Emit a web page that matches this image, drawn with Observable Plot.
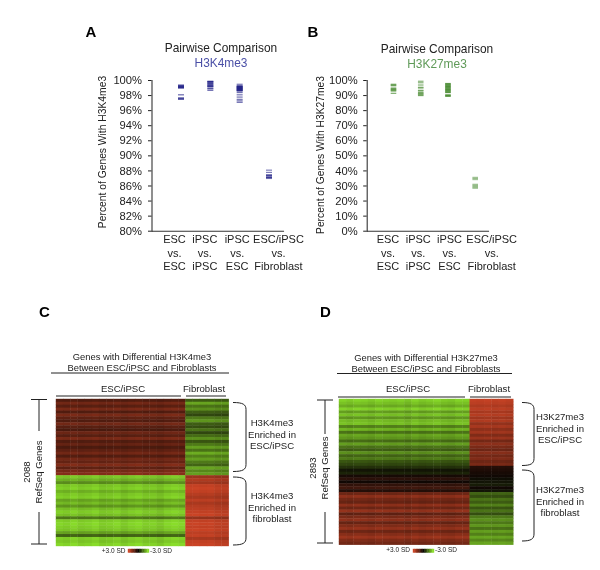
<!DOCTYPE html>
<html><head><meta charset="utf-8">
<script src="https://cdn.jsdelivr.net/npm/d3@7"></script>
<script src="https://cdn.jsdelivr.net/npm/@observablehq/plot@0.6"></script>
<style>
html,body{margin:0;padding:0;background:#fff}
#root{position:relative;width:600px;height:570px;overflow:hidden;font-family:"Liberation Sans",Arial,sans-serif;color:#222;filter:blur(0.3px)}
#root svg{position:absolute;overflow:visible;background:transparent}
.t{position:absolute;white-space:nowrap;line-height:1}
</style></head><body><div id="root"></div>
<script>
const comparisons = ["ESC\nvs.\nESC","iPSC\nvs.\niPSC","iPSC\nvs.\nESC","ESC/iPSC\nvs.\nFibroblast"];
// Panel A values (percent)
const a1 = [99.4,99.3,99.25,99.2,99.1,99.05,99.0,98.1,97.7,97.6,97.5];
const a2 = [99.9,99.85,99.8,99.7,99.6,99.5,99.4,99.3,99.25,99.2,99.0,98.9,98.7];
const a3 = [99.5,99.3,99.25,99.2,99.15,99.1,99.05,99.0,98.95,98.9,98.85,98.8,98.75,98.7,98.65,98.6,98.4,98.1,97.8,97.5,97.3,97.1];
const a4 = [88.1,87.8,87.5,87.4,87.35,87.2,87.15,87.1,87.0];
// Panel B values (percent)
const b1 = [97.5,97,96.5,95,94.5,94,93.5,93,91.5];
const b2 = [99.5,98.5,97,95.5,95,93.5,93,92,91.5,91,90.5,90];
const b3 = [98,97.5,97,96.5,96,95.5,95,94.5,94,93.5,93,92.5,92,90.5,90,89.5];
const b4 = [35.8,35.4,35,34.6,34.2,31.2,30.8,30.4,30,29.6,29.2,28.8,28.4];
const pctA = [100,98,96,94,92,90,88,86,84,82,80];
const pctB = [100,90,80,70,60,50,40,30,20,10,0];
// Heatmap rows, in SD units
const cEsc = [1.1,1.6,1.2,1.7,1.1,1.7,1.3,1.1,1.6,1.2,1.0,1.5,1.2,1.7,1.1,1.4,1.0,1.3,1.6,1.1,1.6,1.4,1.8,1.3,1.7,1.9,
  -2.7,-2.4,-1.9,-2.7,-2.8,-2.4,-2.7,-2.8,-2.2,-2.5,-2.0,-2.6,-2.8,-2.6,-1.6,-2.8,-2.9,-2.8,-2.7,-2.2,-1.3,-2.8,-2.7,-2.9];
const cFib = [-1.2,-2.2,-1.5,-1.9,-1.2,-0.9,-1.6,-2.0,-1.2,-1.0,-1.5,-0.9,-1.4,-1.9,-1.1,-1.6,-2.1,-1.5,-2.3,-1.7,-2.1,-1.6,-1.3,-2.2,-1.8,-2.1,
  2.2,2.5,2.3,2.8,2.9,2.8,2.6,2.4,2.7,2.4,2.6,2.7,2.8,2.9,2.1,2.8,2.9,2.8,2.9,2.7,2.8,2.4,2.8,2.9];
const dEsc = [-2.8,-2.6,-2.3,-2.8,-2.1,-2.6,-2.0,-2.5,-2.6,-1.7,-2.4,-1.5,-2.2,-2.0,-1.4,-2.1,-1.5,-1.2,-1.9,-1.3,-1.6,-1.1,-0.9,
  -0.6,-0.2,-0.4,0.2,0.5,0.1,0.6,0.8,0.4,1.5,2.0,1.6,1.4,2.0,1.5,2.1,1.3,1.7,2.0,1.4,1.8,2.1,1.5,1.9,2.2,1.8,1.6];
const dFib = [2.8,2.7,2.5,2.7,2.4,2.6,2.3,2.5,2.1,2.4,2.0,2.3,1.8,2.2,1.6,2.0,1.7,1.5,1.9,1.6,1.8,1.5,1.7,
  0.4,0.3,0.2,0.1,-0.1,-0.2,-0.3,0.1,-0.2,-1.3,-1.0,-1.5,-1.2,-1.7,-1.1,-1.5,-1.0,-1.6,-1.9,-1.6,-2.0,-1.5,-2.1,-1.7,-2.2,-1.8,-2.2];
// Column shading across samples (18 ESC/iPSC, 6 fibroblast)
const cCols = [1.0,0.97,1.02,0.96,0.98,1.02,0.95,0.97,1.01,0.94,0.99,1.02,0.96,0.98,0.93,1.0,1.03,1.0, 1.0,1.01,0.99,1.0,0.95,0.94];
const dCols = [1.01,0.97,1.02,1.0,0.96,1.02,0.99,0.97,1.0,0.94,1.02,0.96,0.99,1.03,0.97,0.95,1.01,1.0, 1.0,0.99,1.01,0.98,1.0,0.97];
const legendStops = [3,2.5,2,1.5,1,0.5,0,-0.5,-1,-1.5,-2,-2.5,-3];
const heatColor = {type:"linear",domain:[-3,0,3],range:["#8ade2a","#0a0603","#cf4526"],interpolate:"rgb",clamp:true};

const root = document.getElementById("root");
function text(s,x,y,o={}){
  const d=document.createElement("div");d.className="t";d.textContent=s;
  const ax=o.anchor==="end"?"-100%":o.anchor==="start"?"0":"-50%";
  d.style.cssText=`left:${x}px;top:${y}px;font-size:${o.size||10}px;color:${o.color||"#222"};font-weight:${o.weight||"normal"};transform:translate(${ax},-50%)${o.rot?" rotate(-90deg)":""}`;
  root.appendChild(d);
}
function scatter(left,groups,ticks,yDomain,color,opacity,range,frameRight,labelShift,tickPadding){
  const rows=groups.flatMap((g,i)=>g.map(v=>({c:comparisons[i],v,o:opacity[i]})));
  const svg=Plot.plot({
    width:240,height:210,marginTop:10,marginBottom:49.3,marginLeft:frameRight[0],marginRight:240-frameRight[1],
    style:{position:"absolute",left:left+"px",top:"70px",background:"transparent",fontFamily:"Liberation Sans",color:"#222"},
    x:{domain:comparisons,range,paddingInner:0.795,paddingOuter:0,round:false,axis:null},
    y:{domain:yDomain},
    marks:[
      Plot.frame({anchor:"left",stroke:"#333",strokeWidth:1.1}),
      Plot.frame({anchor:"bottom",stroke:"#333",strokeWidth:1.1}),
      Plot.axisY({ticks,tickFormat:d=>d+"%",tickSize:3.5,tickPadding,fontSize:11.2,label:null}),
      Plot.tickY(rows,{x:"c",y:"v",stroke:color,strokeOpacity:"o",strokeWidth:1.2}),
      ...comparisons.map((c,i)=>Plot.text([c],{x:d=>d,text:d=>d,frameAnchor:"bottom",lineAnchor:"top",dy:3,dx:labelShift[i],fontSize:11,lineHeight:1.19,fill:"#222"}))
    ]
  });
  root.appendChild(svg);
}
scatter(70,[a1,a2,a3,a4],pctA,[80,100],"#14147f",[0.65,0.65,0.6,0.55],[108,202],[81.5,213],[-7,-6,-3,9],6.5);
scatter(300,[b1,b2,b3,b4],pctB,[0,100],"#357f1c",[0.65,0.6,0.75,0.32],[90.7,178],[66.7,188],[-6,-3,1,16],6);

function heat(left,top,w,h,escRows,fibRows,cols){
  const data=[];
  escRows.forEach((_,r)=>cols.forEach((s,c)=>data.push({r,c,v:(c<18?escRows[r]:fibRows[r])*s})));
  const svg=Plot.plot({
    width:w,height:h,margin:0,
    style:{position:"absolute",left:left+"px",top:top+"px",background:"transparent",filter:"blur(0.3px)"},
    x:{domain:d3.range(cols.length),axis:null,padding:0,round:false},
    y:{domain:d3.range(escRows.length),axis:null,padding:0,round:false},
    color:heatColor,
    marks:[Plot.cell(data,{x:"c",y:"r",fill:"v",inset:-0.2})]
  });
  root.appendChild(svg);
}
heat(56,399,172.7,147,cEsc,cFib,cCols);
heat(338.7,399.3,174.3,145.7,dEsc,dFib,dCols);

function legend(left,top){
  const svg=Plot.plot({width:21,height:3.5,margin:0,
    style:{position:"absolute",left:left+"px",top:top+"px",background:"transparent"},
    x:{domain:legendStops,axis:null,padding:0,round:false},y:{axis:null},color:heatColor,
    marks:[Plot.cell(legendStops,{x:d=>d,fill:d=>d,inset:-0.2})]});
  root.appendChild(svg);
}
legend(127.5,549);legend(413,548.5);

// Panel letters
text("A",91,31,{size:15,weight:"bold",color:"#000"});
text("B",313,31,{size:15,weight:"bold",color:"#000"});
text("C",44.5,311,{size:15,weight:"bold",color:"#000"});
text("D",325.5,311,{size:15,weight:"bold",color:"#000"});
// Scatter titles
text("Pairwise Comparison",221,49,{size:11.9});
text("H3K4me3",221,64,{size:11.9,color:"#4a4fa6"});
text("Pairwise Comparison",437,50,{size:11.9});
text("H3K27me3",437,65,{size:11.9,color:"#5f9a58"});
text("Percent of Genes With H3K4me3",103,151.5,{size:10.3,rot:1});
text("Percent of Genes With H3K27me3",320.7,155,{size:10.3,rot:1});
// Heatmap C labels
text("Genes with Differential H3K4me3",142,357,{size:9.4});
text("Between ESC/iPSC and Fibroblasts",142,368,{size:9.4});
text("ESC/iPSC",123,389,{size:9.6});
text("Fibroblast",204,389,{size:9.6});
text("2088",27,472,{size:9.6,rot:1});
text("RefSeq Genes",39,472,{size:9.6,rot:1});
["H3K4me3","Enriched in","ESC/iPSC"].forEach((s,i)=>text(s,272,[423,434.5,446][i],{size:9.6}));
["H3K4me3","Enriched in","fibroblast"].forEach((s,i)=>text(s,272,[496,507.5,519][i],{size:9.6}));
text("+3.0 SD",125.5,550.7,{size:6.5,anchor:"end"});
text("-3.0 SD",150,550.7,{size:6.5,anchor:"start"});
// Heatmap D labels
text("Genes with Differential H3K27me3",426,358,{size:9.4});
text("Between ESC/iPSC and Fibroblasts",426,369,{size:9.4});
text("ESC/iPSC",408,389,{size:9.6});
text("Fibroblast",489,389,{size:9.6});
text("2893",313,468,{size:9.6,rot:1});
text("RefSeq Genes",325,468,{size:9.6,rot:1});
["H3K27me3","Enriched in","ESC/iPSC"].forEach((s,i)=>text(s,560,[417,428.5,440][i],{size:9.6}));
["H3K27me3","Enriched in","fibroblast"].forEach((s,i)=>text(s,560,[490,501.5,513][i],{size:9.6}));
text("+3.0 SD",410,550,{size:6.5,anchor:"end"});
text("-3.0 SD",435,550,{size:6.5,anchor:"start"});

// Rules and braces
const brace=(x0,x1,y0,y1)=>`M${x0},${y0}C${x1-3},${y0} ${x1},${y0+2} ${x1},${y0+7}L${x1},${y1-7}C${x1},${y1-2} ${x1-3},${y1} ${x0},${y1}`;
const paths=[
  "M51,373H229","M56,396H181","M186,396H226","M31,399.5H47","M31,544H47","M39,399.5V431","M39,512V544",
  "M337,373.5H512","M338,397H465","M470,397H511","M317,400H333","M317,543H333","M325,400V434","M325,512V543",
  brace(233,246,402.5,471.5),brace(233,246,477,545),brace(522,534,402.5,465.5),brace(522,534,470,541)
];
const NS="http://www.w3.org/2000/svg";
const over=document.createElementNS(NS,"svg");
over.setAttribute("width",600);over.setAttribute("height",570);over.style.cssText="left:0;top:0";
paths.forEach(d=>{const p=document.createElementNS(NS,"path");p.setAttribute("d",d);p.setAttribute("fill","none");p.setAttribute("stroke","#222");p.setAttribute("stroke-width","1");over.appendChild(p);});
root.appendChild(over);
</script></body></html>
